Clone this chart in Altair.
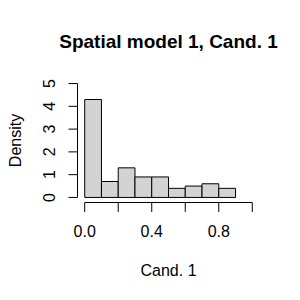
import altair as alt
import pandas as pd

# Histogram data
bin_left = [0.0, 0.1, 0.2, 0.3, 0.4, 0.5, 0.6, 0.7, 0.8]
bin_right = [0.1, 0.2, 0.3, 0.4, 0.5, 0.6, 0.7, 0.8, 0.9]
density = [4.3, 0.7, 1.3, 0.9, 0.9, 0.4, 0.5, 0.6, 0.4]

x_ticks = [0.0, 0.2, 0.4, 0.6, 0.8, 1.0]
x_label_vals = [0.0, 0.4, 0.8]
x_label_txt = ["0.0", "0.4", "0.8"]
y_ticks = [0, 1, 2, 3, 4, 5]
y_label_txt = ["0", "1", "2", "3", "4", "5"]

title_txt = "Spatial model 1, Cand. 1"
xlab = "Cand. 1"
ylab = "Density"

W, H = 181, 123
FONT = "Liberation Sans"

xs = alt.Scale(domain=[-0.04, 1.04], nice=False, zero=False)
ys = alt.Scale(domain=[-0.2, 5.2], nice=False, zero=False)

bars_df = pd.DataFrame({"x": bin_left, "x2": bin_right, "d": density, "z": [0] * len(density)})
xt_df = pd.DataFrame({"x": x_ticks})
xl_df = pd.DataFrame({"x": x_label_vals, "t": x_label_txt})
yt_df = pd.DataFrame({"y": y_ticks, "t": y_label_txt})

bars = alt.Chart(bars_df).mark_rect(fill="#D3D3D3", stroke="black", strokeWidth=1).encode(
    x=alt.X("x:Q", scale=xs, axis=None),
    x2="x2:Q",
    y=alt.Y("d:Q", scale=ys, axis=None),
    y2="z:Q",
)

xaxis_line = alt.Chart(pd.DataFrame({"a": [x_ticks[0]], "b": [x_ticks[-1]]})).mark_rule(color="black").encode(
    x=alt.X("a:Q", scale=xs, axis=None), x2="b:Q", y=alt.value(H + 0.5)
)
xaxis_ticks = alt.Chart(xt_df).mark_rule(color="black").encode(
    x=alt.X("x:Q", scale=xs, axis=None), y=alt.value(H + 0.5), y2=alt.value(H + 10)
)
xaxis_labels = alt.Chart(xl_df).mark_text(font=FONT, fontSize=16, baseline="middle", color="black").encode(
    x=alt.X("x:Q", scale=xs, axis=None), y=alt.value(152.5), text="t:N"
)

yaxis_line = alt.Chart(pd.DataFrame({"a": [y_ticks[0]], "b": [y_ticks[-1]]})).mark_rule(color="black").encode(
    y=alt.Y("a:Q", scale=ys, axis=None), y2="b:Q", x=alt.value(-0.5)
)
yaxis_ticks = alt.Chart(yt_df).mark_rule(color="black").encode(
    y=alt.Y("y:Q", scale=ys, axis=None), x=alt.value(-0.5), x2=alt.value(-9.5)
)
yaxis_labels = alt.Chart(yt_df).mark_text(font=FONT, fontSize=16, baseline="middle", angle=270, color="black").encode(
    y=alt.Y("y:Q", scale=ys, axis=None), x=alt.value(-28.5), text="t:N"
)

title = alt.Chart(pd.DataFrame({"t": [title_txt]})).mark_text(
    font=FONT, fontSize=19, fontWeight="bold", baseline="middle", color="black"
).encode(x=alt.value(W / 2), y=alt.value(-37.5), text="t:N")

xtitle = alt.Chart(pd.DataFrame({"t": [xlab]})).mark_text(
    font=FONT, fontSize=16, baseline="middle", color="black"
).encode(x=alt.value(W / 2), y=alt.value(191.5), text="t:N")

ytitle = alt.Chart(pd.DataFrame({"t": [ylab]})).mark_text(
    font=FONT, fontSize=16, baseline="middle", angle=270, color="black"
).encode(x=alt.value(-62), y=alt.value(H / 2), text="t:N")

chart = alt.layer(
    bars, xaxis_line, xaxis_ticks, xaxis_labels, yaxis_line, yaxis_ticks, yaxis_labels, title, xtitle, ytitle
).properties(
    width=W, height=H,
    autosize=alt.AutoSizeParams(type="none"),
    padding={"left": 70, "top": 71, "right": 33, "bottom": 90},
    background="white",
).configure_view(stroke=None)

chart.save("out.html", embed_options={"renderer": "svg", "actions": False})
